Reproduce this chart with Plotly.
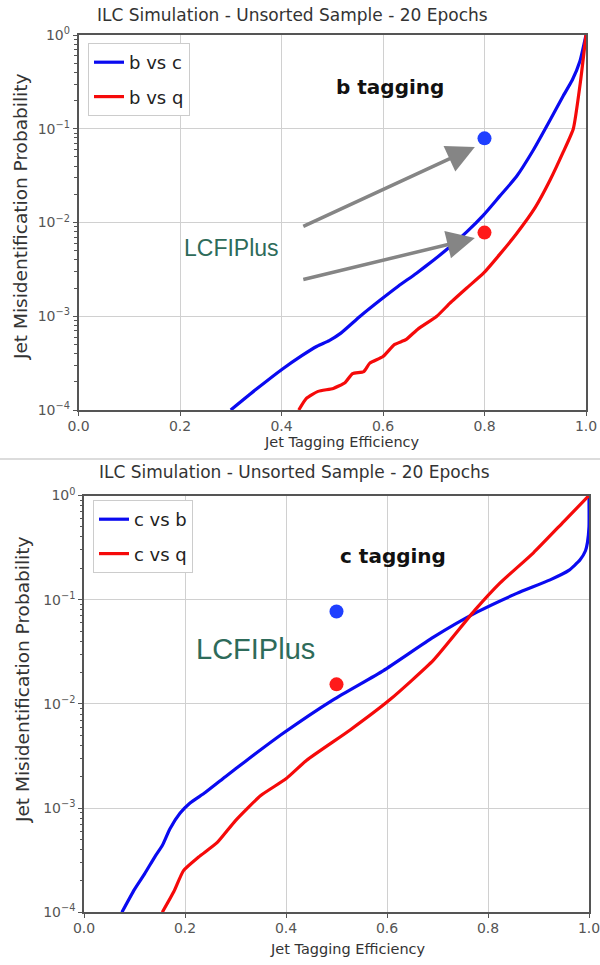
import math
import plotly.graph_objects as go

W, H = 600, 965

# ---------------- data: top chart (b tagging) ----------------
eff_b_vs_c = [0.300, 0.350, 0.400, 0.440, 0.470, 0.494, 0.517, 0.555, 0.594, 0.630,
              0.666, 0.700, 0.732, 0.765, 0.798, 0.830, 0.863, 0.896, 0.929, 0.955,
              0.973, 0.988, 1.000]
mis_b_vs_c = [1.0e-4, 1.66e-4, 2.69e-4, 3.80e-4, 4.79e-4, 5.50e-4, 6.61e-4, 1.0e-3, 1.48e-3, 2.09e-3,
              2.88e-3, 3.98e-3, 5.50e-3, 7.94e-3, 1.20e-2, 1.91e-2, 3.09e-2, 5.89e-2, 0.123, 0.224,
              0.331, 0.525, 1.0]

eff_b_vs_q = [0.434, 0.449, 0.472, 0.502, 0.525, 0.540, 0.562, 0.574, 0.600, 0.623,
              0.645, 0.668, 0.706, 0.732, 0.765, 0.798, 0.830, 0.863, 0.900, 0.929,
              0.955, 0.975, 0.989, 1.000]
mis_b_vs_q = [1.0e-4, 1.33e-4, 1.58e-4, 1.70e-4, 1.95e-4, 2.45e-4, 2.57e-4, 3.16e-4, 3.72e-4, 5.01e-4,
              5.62e-4, 7.24e-4, 1.0e-3, 1.38e-3, 2.0e-3, 2.88e-3, 4.57e-3, 7.59e-3, 1.45e-2, 2.82e-2,
              5.62e-2, 0.1, 0.316, 1.0]

lcfi_b_eff = [0.8, 0.8]
lcfi_b_mis = [0.079, 0.0078]
lcfi_b_colors = ["#1f3fff", "#ff1a1a"]

# arrows (tail -> head) in data units
arrow_tail_eff = [0.44, 0.44]
arrow_tail_mis = [8.95e-3, 2.44e-3]
arrow_head_eff = [0.781, 0.781]
arrow_head_mis = [6.38e-2, 6.84e-3]

# ---------------- data: bottom chart (c tagging) ----------------
eff_c_vs_b = [0.075, 0.100, 0.120, 0.140, 0.155, 0.170, 0.190, 0.210, 0.240, 0.280,
              0.320, 0.395, 0.494, 0.593, 0.692, 0.778, 0.857, 0.923, 0.960, 0.982,
              0.993, 0.997, 1.000, 1.000]
mis_c_vs_b = [1.0e-4, 1.66e-4, 2.34e-4, 3.39e-4, 4.37e-4, 6.31e-4, 8.91e-4, 1.12e-3, 1.41e-3, 2.0e-3,
              2.82e-3, 5.25e-3, 1.10e-2, 2.09e-2, 4.37e-2, 7.59e-2, 0.115, 0.155, 0.191, 0.240,
              0.295, 0.355, 0.50, 1.0]

eff_c_vs_q = [0.155, 0.178, 0.197, 0.227, 0.264, 0.300, 0.350, 0.400, 0.441, 0.527,
              0.606, 0.692, 0.774, 0.824, 0.890, 0.950, 1.000]
mis_c_vs_q = [1.0e-4, 1.58e-4, 2.51e-4, 3.39e-4, 4.68e-4, 7.59e-4, 1.32e-3, 1.91e-3, 2.88e-3, 5.62e-3,
              1.10e-2, 2.63e-2, 7.94e-2, 0.145, 0.282, 0.562, 1.0]

lcfi_c_eff = [0.5, 0.5]
lcfi_c_mis = [0.077, 0.0154]
lcfi_c_colors = ["#1f3fff", "#ff1a1a"]

# ---------------- ticks ----------------
x_ticks = [0.0, 0.2, 0.4, 0.6, 0.8, 1.0]
x_tick_labels = ["0.0", "0.2", "0.4", "0.6", "0.8", "1.0"]
y_ticks = [1e-4, 1e-3, 1e-2, 1e-1, 1.0]
y_tick_labels = ["10<sup>\u22124</sup>", "10<sup>\u22123</sup>", "10<sup>\u22122</sup>",
                 "10<sup>\u22121</sup>", "10<sup>0</sup>"]
y_minor = [m * 10.0 ** e for e in range(-4, 0) for m in range(2, 10)]

TITLE = "ILC Simulation - Unsorted Sample - 20 Epochs"
FONT = "DejaVu Sans"
AXC = "#555555"
GRID = "#d0d0d0"
BLUE = "#0a0af0"
RED = "#f50a0a"


def px_x(p):
    return p / W


def px_y(p):
    return 1 - p / H


def curve(color):
    return dict(color=color, width=3.2, shape="spline", smoothing=0.5)


fig = go.Figure()

# top traces
fig.add_trace(go.Scatter(x=eff_b_vs_c, y=mis_b_vs_c, mode="lines", name="b vs c", legendgroup="bc",
                         line=curve(BLUE), xaxis="x", yaxis="y", legend="legend"))
fig.add_trace(go.Scatter(x=eff_b_vs_q, y=mis_b_vs_q, mode="lines", name="b vs q", legendgroup="bq",
                         line=curve(RED), xaxis="x", yaxis="y", legend="legend"))
fig.add_trace(go.Scatter(x=lcfi_b_eff, y=lcfi_b_mis, mode="markers", showlegend=False,
                         marker=dict(size=14, color=lcfi_b_colors), xaxis="x", yaxis="y"))

# bottom traces
fig.add_trace(go.Scatter(x=eff_c_vs_b, y=mis_c_vs_b, mode="lines", name="c vs b", legendgroup="cb",
                         line=curve(BLUE), xaxis="x2", yaxis="y2", legend="legend2"))
fig.add_trace(go.Scatter(x=eff_c_vs_q, y=mis_c_vs_q, mode="lines", name="c vs q", legendgroup="cq",
                         line=curve(RED), xaxis="x2", yaxis="y2", legend="legend2"))
fig.add_trace(go.Scatter(x=lcfi_c_eff, y=lcfi_c_mis, mode="markers", showlegend=False,
                         marker=dict(size=14, color=lcfi_c_colors), xaxis="x2", yaxis="y2"))

xcommon = dict(range=[0, 1], tickvals=x_ticks, ticktext=x_tick_labels, showgrid=True,
               gridcolor=GRID, gridwidth=1.2, showline=True, linecolor=AXC, linewidth=1.5,
               mirror=True, ticks="outside", ticklen=4, tickcolor=AXC, zeroline=False,
               automargin=False, ticklabelstandoff=-2, ticklabeloverflow="allow",
               tickfont=dict(family=FONT, size=14, color="#555555"))
ycommon = dict(type="log", range=[-4, 0], tickvals=y_ticks, ticktext=y_tick_labels, showgrid=True,
               gridcolor=GRID, gridwidth=1.2, showline=True, linecolor=AXC, linewidth=1.5,
               mirror=True, ticks="outside", ticklen=4, tickcolor=AXC, zeroline=False,
               automargin=False, ticklabeloverflow="allow",
               tickfont=dict(family=FONT, size=14, color="#555555"),
               minor=dict(tickvals=y_minor, ticks="outside", ticklen=2.5, tickcolor=AXC, showgrid=False))

legend_common = dict(xanchor="left", yanchor="top", font=dict(family=FONT, size=18, color="#222222"),
                     bgcolor="white", bordercolor="#cccccc", borderwidth=1, tracegroupgap=8)

fig.update_layout(
    width=W, height=H, autosize=False,
    margin=dict(l=0, r=0, t=0, b=0, pad=0, autoexpand=False),
    paper_bgcolor="white", plot_bgcolor="white",
    font=dict(family=FONT, color="#222222"),
    xaxis=dict(domain=[px_x(78.5), px_x(586)], anchor="y", **xcommon),
    yaxis=dict(domain=[px_y(410), px_y(35)], anchor="x", **ycommon),
    xaxis2=dict(domain=[px_x(84), px_x(589)], anchor="y2", **xcommon),
    yaxis2=dict(domain=[px_y(912.3), px_y(495.5)], anchor="x2", **ycommon),
    legend=dict(x=px_x(88), y=px_y(43), **legend_common),
    legend2=dict(x=px_x(93), y=px_y(500), **legend_common),
)


def label(text, xp, yp, size, color="#333333", angle=0, family=FONT):
    return dict(text=text, x=px_x(xp), y=px_y(yp), xref="paper", yref="paper",
                xanchor="center", yanchor="middle", showarrow=False, textangle=angle,
                font=dict(family=family, size=size, color=color))


ann = []
# titles
ann.append(label(TITLE, 292, 15, 17))
ann.append(label(TITLE, 294, 472, 17))
# x labels
ann.append(label("Jet Tagging Efficiency", 342, 442, 14.5))
ann.append(label("Jet Tagging Efficiency", 348, 949, 14.5))
# y labels
ann.append(label("Jet Misidentification Probability", 20, 217, 18.5, angle=-90))
ann.append(label("Jet Misidentification Probability", 22, 680, 18.5, angle=-90))
# tagging labels
ann.append(dict(text="<b>b tagging</b>", x=0.613, y=math.log10(0.279), xref="x", yref="y",
                xanchor="center", yanchor="middle",
                showarrow=False, font=dict(family=FONT, size=20, color="#111111")))
ann.append(dict(text="<b>c tagging</b>", x=0.611, y=math.log10(0.262), xref="x2", yref="y2",
                xanchor="center", yanchor="middle",
                showarrow=False, font=dict(family=FONT, size=20, color="#111111")))
# LCFIPlus labels
ann.append(dict(text="LCFIPlus", x=0.302, y=math.log10(5.35e-3), xref="x", yref="y",
                xanchor="center", yanchor="middle",
                showarrow=False, font=dict(family="Liberation Sans", size=23, color="#2e6b5a")))
ann.append(dict(text="LCFIPlus", x=0.339, y=math.log10(0.0335), xref="x2", yref="y2",
                xanchor="center", yanchor="middle",
                showarrow=False, font=dict(family="Liberation Sans", size=29, color="#2e6b5a")))
# arrows
for te, tm, he, hm in zip(arrow_tail_eff, arrow_tail_mis, arrow_head_eff, arrow_head_mis):
    ann.append(dict(text="", x=he, y=math.log10(hm), ax=te, ay=math.log10(tm),
                    xref="x", yref="y", axref="x", ayref="y", showarrow=True,
                    arrowhead=2, arrowsize=1.6, arrowwidth=3.5, arrowcolor="#858585",
                    standoff=0, startstandoff=0))

fig.update_layout(annotations=ann)

# separator between the two panels
fig.add_shape(type="line", xref="paper", yref="paper", x0=0, x1=1, y0=px_y(459), y1=px_y(459),
              line=dict(color="#d0d0d0", width=1.5))

# remove the default 8px page margin so the 600x965 figure fills the window exactly
fig.write_html("out.html", config={"displayModeBar": False},
               post_script="document.body.style.margin='0';document.body.style.overflow='hidden';")
